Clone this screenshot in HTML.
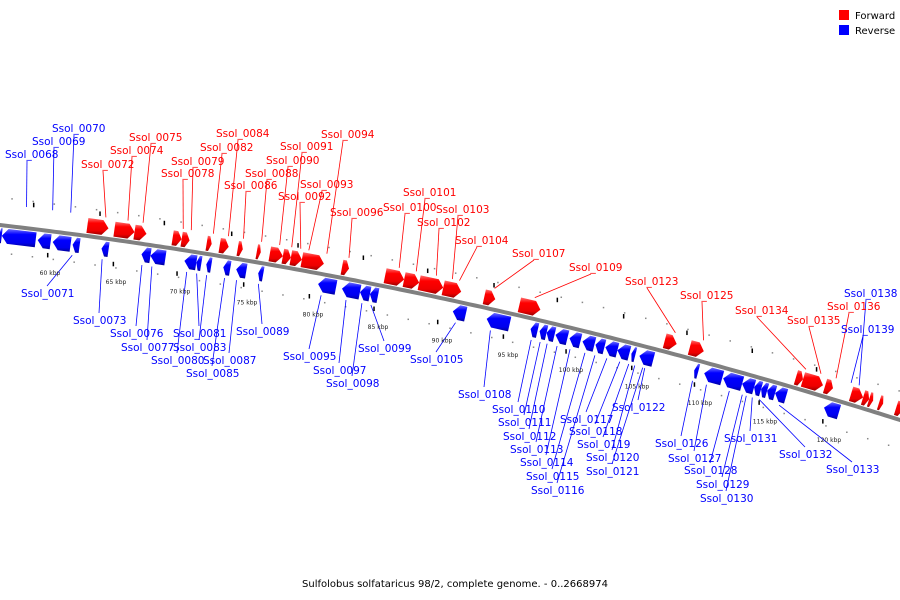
<!DOCTYPE html>
<html><head><meta charset="utf-8"><style>
html,body{margin:0;padding:0;background:#fff;width:900px;height:600px;overflow:hidden}
svg{display:block}
text{font-family:"DejaVu Sans","Liberation Sans",sans-serif}
</style></head><body>
<svg id="map" width="900" height="600" viewBox="0 0 900 600" xmlns="http://www.w3.org/2000/svg">
<defs>
<linearGradient id="gr" x1="0" y1="0" x2="0" y2="1"><stop offset="0" stop-color="#ff7070"/><stop offset="0.3" stop-color="#ff0000"/><stop offset="0.75" stop-color="#ee0000"/><stop offset="1" stop-color="#990000"/></linearGradient>
<linearGradient id="gb" x1="0" y1="0" x2="0" y2="1"><stop offset="0" stop-color="#7070ff"/><stop offset="0.3" stop-color="#0000ff"/><stop offset="0.75" stop-color="#0000ee"/><stop offset="1" stop-color="#000099"/></linearGradient>
</defs>
<g id="dots"></g>
<path id="backbone" fill="none" stroke="#808080" stroke-width="4"/>
<g id="genes"></g>
<g id="leaders"></g>
<g id="labels"></g>
<g id="kbp"></g>
<g>
<rect x="839" y="10" width="10" height="10" fill="#ff0000"/>
<text x="855" y="19" font-size="10" fill="#000">Forward</text>
<rect x="839" y="25" width="10" height="10" fill="#0000ff"/>
<text x="855" y="34" font-size="10" fill="#000">Reverse</text>
</g>
<text x="455" y="587" font-size="10" text-anchor="middle" fill="#000">Sulfolobus solfataricus 98/2, complete genome. - 0..2668974</text>
</svg>
<script>
const NS="http://www.w3.org/2000/svg";
// gene extents (screen x along backbone) and strands
const geneStart=[0,3,39,54,74,103,143,152,186,198,208,225,238,260,320,344,362,372,455,489,533,542,549,558,572,585,598,608,620,634,642,697,707,726,745,757,764,770,778,827,
86,113,133,171,180,205,218,236,255,268,281,289,300,340,383,402,417,441,482,517,662,687,793,800,822,848,860,866,876,893];
const geneEnd=[3,37,52,72,81,110,152,167,198,203,213,232,248,265,338,362,372,380,468,512,540,549,557,570,583,597,607,620,632,638,656,701,725,745,757,764,770,778,789,842,
107,133,145,180,188,210,227,241,259,281,289,300,322,347,402,417,441,459,493,538,674,701,800,820,830,860,866,870,880,900];
const geneStrand=geneStart.map((_,i)=>i<40?-1:1);
// labels
const labelText=["Ssol_0070","Ssol_0069","Ssol_0068","Ssol_0072","Ssol_0074","Ssol_0075","Ssol_0078","Ssol_0079","Ssol_0082","Ssol_0084","Ssol_0086","Ssol_0088","Ssol_0090","Ssol_0091","Ssol_0092","Ssol_0093","Ssol_0094","Ssol_0096","Ssol_0100","Ssol_0101","Ssol_0102","Ssol_0103","Ssol_0104","Ssol_0107","Ssol_0109","Ssol_0123","Ssol_0125","Ssol_0134","Ssol_0135","Ssol_0136","Ssol_0138","Ssol_0139",
"Ssol_0071","Ssol_0073","Ssol_0076","Ssol_0077","Ssol_0080","Ssol_0081","Ssol_0083","Ssol_0085","Ssol_0087","Ssol_0089","Ssol_0095","Ssol_0097","Ssol_0098","Ssol_0099","Ssol_0105","Ssol_0108","Ssol_0110","Ssol_0111","Ssol_0112","Ssol_0113","Ssol_0114","Ssol_0115","Ssol_0116","Ssol_0117","Ssol_0118","Ssol_0119","Ssol_0120","Ssol_0121","Ssol_0122","Ssol_0126","Ssol_0127","Ssol_0128","Ssol_0129","Ssol_0130","Ssol_0131","Ssol_0132","Ssol_0133"];
const labelX=[52,32,5,81,110,129,161,171,200,216,224,245,266,280,278,300,321,330,383,403,417,436,455,512,569,625,680,735,787,827,844,841,
21,73,110,121,151,173,173,186,203,236,283,313,326,358,410,458,492,498,503,510,520,526,531,560,569,577,586,586,612,655,668,684,696,700,724,779,826];
const labelY=[128,141,154,164,150,137,173,161,147,133,185,173,160,146,196,184,134,212,207,192,222,209,240,253,267,281,295,310,320,306,293,329,
293,320,333,347,360,333,347,373,360,331,356,370,383,348,359,394,409,422,436,449,462,476,490,419,431,444,457,471,407,443,458,470,484,498,438,454,469];
const labelTarget=[68,50,24,103,125,140,180,188,210,225,240,258,276,288,297,305,323,345,395,412,432,448,455,490,530,670,698,800,815,830,853,845,
75,105,145,155,190,200,210,228,240,262,325,350,366,375,460,495,536,545,552,562,575,590,600,612,625,634,640,648,650,698,712,735,748,752,758,765,785];
const labelStrand=labelText.map((t,i)=>i<32?(i<3||i>=30?-2:1):-1);
const kbpValue=[60,65,70,75,80,85,90,95,100,105,110,115,120];
const kbpX=[50,116,180,247,313,378,442,508,571,637,700,765,829];

function cy(x){return 225+0.1167*x+0.0001111*x*x;}
function slope(x){return 0.1167+2*0.0001111*x;}
function pt(x,off){const s=slope(x),n=Math.hypot(1,s);return [x-s*off/n,cy(x)+off/n];}
const svg=document.getElementById('map');
let d="M-5 "+cy(-5);for(let x=0;x<=905;x+=5)d+=" L"+x+" "+cy(x).toFixed(1);
document.getElementById('backbone').setAttribute('d',d);

// dots
const dg=document.getElementById('dots');
for(let x=8;x<900;x+=21){[-28,27].forEach(o=>{const p=pt(x+(o>0?6:0),o);const c=document.createElementNS(NS,'rect');


c.setAttribute('x',p[0]);c.setAttribute('y',p[1]);c.setAttribute('width',1.5);c.setAttribute('height',1.5);c.setAttribute('fill','#888');dg.appendChild(c);});}

// genes
const gg=document.getElementById('genes');
geneStart.forEach((s,i)=>{const e=geneEnd[i],st=geneStrand[i];
 const o1=st>0?-18:3,o2=st>0?-3:18,om=(o1+o2)/2;const len=e-s,h=Math.min(6,len*0.5);
 let pts;
 if(st>0){pts=[pt(s,o1),pt(e-h,o1),pt(e,om),pt(e-h,o2),pt(s,o2)];}
 else{pts=[pt(s,om),pt(s+h,o1),pt(e,o1),pt(e,o2),pt(s+h,o2)];}
 const p=document.createElementNS(NS,'polygon');
 
 
 p.setAttribute('points',pts.map(q=>q[0].toFixed(1)+','+q[1].toFixed(1)).join(' '));
 p.setAttribute('fill',st>0?'url(#gr)':'url(#gb)');gg.appendChild(p);});

// labels
const lg=document.getElementById('labels'),ll=document.getElementById('leaders');
labelText.forEach((t,i)=>{const st=labelStrand[i];const red=st===1;const col=red?'#ff0000':'#0000ff';
 const tx=document.createElementNS(NS,'text');
 
 
 tx.setAttribute('x',labelX[i]);tx.setAttribute('y',labelY[i]+4);tx.setAttribute('font-size','10.5');tx.setAttribute('fill',col);tx.textContent=t;lg.appendChild(tx);
 const above=st!==-1;const tgt=pt(labelTarget[i],above?-21:21);
 const sx=labelX[i]+(above?22:26),sy=labelY[i]+(above?7:-7);
 const l=document.createElementNS(NS,'line');
 
 
 l.setAttribute('x1',sx);l.setAttribute('y1',sy);l.setAttribute('x2',tgt[0]);l.setAttribute('y2',tgt[1]);l.setAttribute('stroke',col);l.setAttribute('stroke-width','0.8');ll.appendChild(l);});

// kbp ticks
const kg=document.getElementById('kbp');
kbpValue.forEach((v,i)=>{const x=kbpX[i];
 const t=document.createElementNS(NS,'text');
 
 
 t.setAttribute('x',x);t.setAttribute('y',cy(x)+44);t.setAttribute('font-size','6');t.setAttribute('text-anchor','middle');t.setAttribute('fill','#222');t.setAttribute('font-family','Liberation Serif, serif');t.textContent=v+' kbp';kg.appendChild(t);
 [-24,24].forEach(o=>{const p=pt(x+(o<0?-20:0),o);const r=document.createElementNS(NS,'rect');
 
 
 r.setAttribute('x',p[0]);r.setAttribute('y',p[1]-2);r.setAttribute('width',1.5);r.setAttribute('height',4.5);r.setAttribute('fill','#000');kg.appendChild(r);});});
</script>
</body></html>
